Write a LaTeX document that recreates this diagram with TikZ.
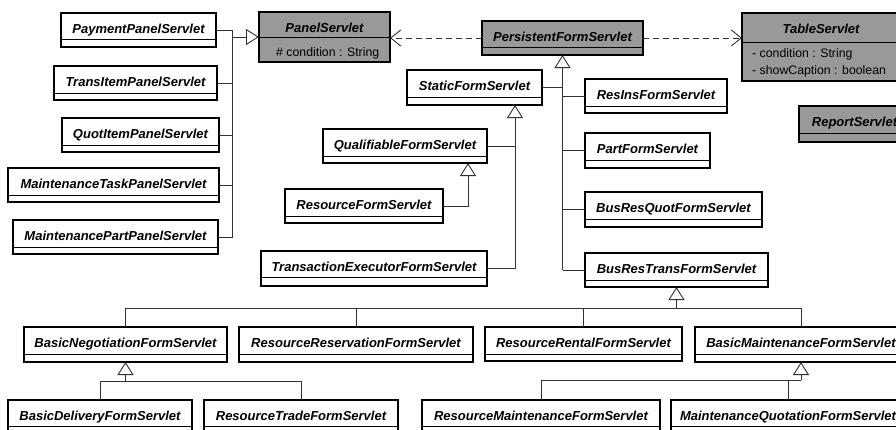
\documentclass[tikz,border=0pt]{standalone}
\usepackage{fontspec}
\setmainfont{Liberation Sans}
\usetikzlibrary{arrows.meta,calc}
\definecolor{boxgray}{RGB}{153,153,153}
\definecolor{linegray}{RGB}{50,50,50}
\tikzset{
  umlbox/.style={draw=black, line width=1.8pt, fill=white, inner sep=0pt, outer sep=0pt},
  grayfill/.style={fill=boxgray},
  sepline/.style={draw=black, line width=0.9pt},
  title/.style={font=\fontsize{13}{15}\selectfont\bfseries\itshape, inner sep=0pt, anchor=base},
  attr/.style={font=\fontsize{12.3}{14}\selectfont, inner sep=0pt, anchor=base west},
  conn/.style={draw=linegray, line width=0.9pt},
  inh/.style={conn, -{Triangle[length=13pt,width=16pt,fill=white,line width=0.9pt]}},
  dep/.style={conn, dash pattern=on 6pt off 4pt, -{Straight Barb[length=10pt,width=16pt,line width=0.9pt]}},
}
% #1 style, #2 name, #3 x, #4 y, #5 w, #6 h, #7 separator offset, #8 title
\newcommand\classbox[8]{%
  \node[umlbox,#1,minimum width=#5pt,minimum height=#6pt,anchor=north west] (#2) at (#3,#4) {};
  \draw[sepline] ([yshift=-#7pt]#2.north west) -- ([yshift=-#7pt]#2.north east);
  \node[title] (#2-t) at ([yshift=-20pt]#2.north) {#8};
}
\begin{document}
\begin{tikzpicture}[x=1pt,y=-1pt]
\useasboundingbox (0,0) rectangle (896,429);
\clip (0,0) rectangle (896,429);
\fill[white] (0,0) rectangle (896,429);

% left panel servlets
\classbox{}{Payment}{61}{13}{155}{34}{26}{PaymentPanelServlet}
\classbox{}{TransItem}{54}{66}{163}{34}{27}{TransItemPanelServlet}
\classbox{}{QuotItem}{62}{118}{157}{34}{27}{QuotItemPanelServlet}
\classbox{}{MaintTask}{8}{168}{211}{34}{27}{MaintenanceTaskPanelServlet}
\classbox{}{MaintPart}{13}{220}{205}{34}{27}{MaintenancePartPanelServlet}

% gray classes
\classbox{grayfill}{Panel}{259}{12}{131}{50}{25}{PanelServlet}
\node[attr] (PanelAttr) at (276,56.5) {\# condition : String};
\classbox{grayfill}{Persistent}{482}{21}{161}{34}{26}{PersistentFormServlet}
\classbox{grayfill}{Table}{742}{13}{158}{68}{29}{TableServlet}
\node[attr] (TableAttrA) at (752,57) {- condition : String};
\node[attr] (TableAttrB) at (752,74) {- showCaption : boolean};
\classbox{grayfill}{Report}{799}{106}{111}{36}{27}{ReportServlet}

% middle
\classbox{}{Static}{407}{70}{135}{35}{27}{StaticFormServlet}
\classbox{}{ResIns}{585}{79}{142}{34}{27}{ResInsFormServlet}
\classbox{}{Qualifiable}{323}{129}{164}{34}{27}{QualifiableFormServlet}
\classbox{}{PartForm}{585}{133}{125}{35}{27}{PartFormServlet}
\classbox{}{ResourceForm}{285}{189}{158}{34}{27}{ResourceFormServlet}
\classbox{}{BusResQuot}{585}{192}{177}{35}{27}{BusResQuotFormServlet}
\classbox{}{TransExec}{261}{251}{226}{35}{26}{TransactionExecutorFormServlet}
\classbox{}{BusResTrans}{585}{253}{183}{34}{27}{BusResTransFormServlet}

% lower rows
\classbox{}{BasicNeg}{24}{327}{203}{35}{27}{BasicNegotiationFormServlet}
\classbox{}{ResRes}{239}{327}{234}{35}{27}{ResourceReservationFormServlet}
\classbox{}{ResRental}{485}{327}{197}{34}{27}{ResourceRentalFormServlet}
\classbox{}{BasicMaint}{695}{327}{212}{35}{27}{BasicMaintenanceFormServlet}
\classbox{}{BasicDelivery}{8}{400}{184}{34}{26}{BasicDeliveryFormServlet}
\classbox{}{ResTrade}{204}{400}{194}{34}{26}{ResourceTradeFormServlet}
\classbox{}{ResMaint}{422}{400}{238}{34}{26}{ResourceMaintenanceFormServlet}
\classbox{}{MaintQuot}{671}{400}{234}{34}{26}{MaintenanceQuotationFormServlet}

% left inheritance
\coordinate (lbus) at (232,37);
\draw[inh] (lbus) -- (Panel.west);
\foreach \n in {Payment,TransItem,QuotItem,MaintTask,MaintPart}
  \draw[conn] (\n.east) -| (lbus);

% dependencies
\draw[dep] (Persistent.west) -- (Persistent.west -| Panel.east);
\draw[dep] (Persistent.east) -- (Persistent.east -| Table.west);

% PersistentFormServlet hierarchy
\draw[inh] (BusResTrans.west -| Persistent.south) -- (Persistent.south);
\foreach \n in {ResIns,PartForm,BusResQuot,BusResTrans}
  \draw[conn] (\n.west) -- (\n.west -| Persistent.south);
\draw[conn] (Static.east) -- (Static.east -| Persistent.south);

% StaticFormServlet hierarchy
\coordinate (sx) at ([xshift=-27pt]Static.south east);
\draw[inh] (TransExec.east -| sx) -- (sx);
\draw[conn] (TransExec.east) -- (TransExec.east -| sx);
\draw[conn] (Qualifiable.east) -- (Qualifiable.east -| sx);

% QualifiableFormServlet hierarchy
\coordinate (qx) at ([xshift=-19pt]Qualifiable.south east);
\draw[inh] (ResourceForm.east) -| (qx);

% BusResTransFormServlet hierarchy
\coordinate (bty) at (0,308);
\coordinate (bt) at (BusResTrans.south |- bty);
\draw[inh] (bt) -- (BusResTrans.south);
\foreach \n in {BasicNeg,ResRes,ResRental,BasicMaint}
  \draw[conn] (\n.north) |- (bt);

% BasicNegotiationFormServlet hierarchy
\coordinate (bny) at (0,381);
\coordinate (bn) at (BasicNeg.south |- bny);
\draw[inh] (bn) -- (BasicNeg.south);
\foreach \n in {BasicDelivery,ResTrade}
  \draw[conn] (\n.north) |- (bn);

% BasicMaintenanceFormServlet hierarchy
\coordinate (bmy) at (0,380);
\coordinate (bm) at (BasicMaint.south |- bmy);
\draw[inh] (bm) -- (BasicMaint.south);
\foreach \n in {ResMaint,MaintQuot}
  \draw[conn] (\n.north) |- (bm);
\end{tikzpicture}
\end{document}
